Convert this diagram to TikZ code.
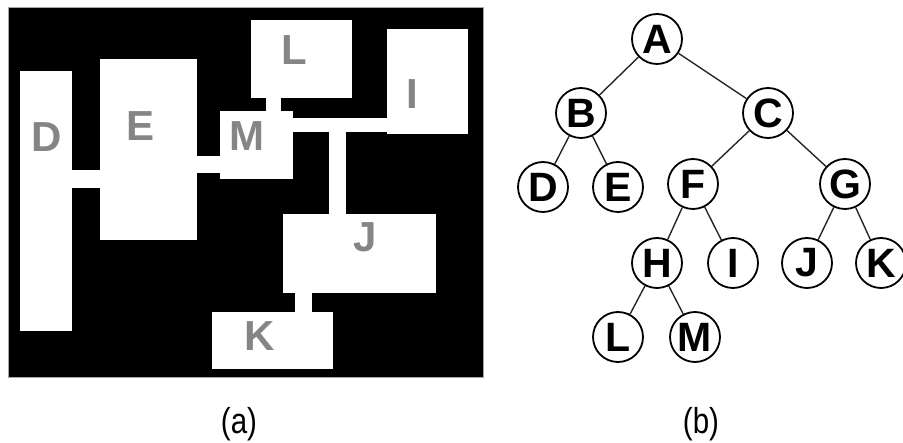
\documentclass[tikz,border=0pt]{standalone}
\usepackage{fontspec}
\setmainfont{Liberation Sans}
\usetikzlibrary{positioning}

\definecolor{labelgray}{HTML}{858585}

\begin{document}
\begin{tikzpicture}[x=1pt, y=-1pt,
      region/.style={fill=white, draw=none},
      regionlabel/.style={text=labelgray, font=\fontsize{42}{42}\selectfont\bfseries, inner sep=0pt},
      treenode/.style={circle, draw=black, line width=1.8pt, fill=white, minimum size=50pt, inner sep=0pt,
        font=\fontsize{41}{41}\selectfont\bfseries},
      treeedge/.style={line width=1.4pt, color=black!85},
      caption/.style={font=\fontsize{36}{36}\selectfont, inner sep=0pt}]
    \useasboundingbox (0,0) rectangle (903,443);
    % (a) region map
    \fill[black, draw=black!35, line width=0.6pt] (8,7) rectangle (483,377);
    \fill[region] (20,71) rectangle (72,331);    % D
    \fill[region] (100,59) rectangle (197,240);  % E
    \fill[region] (72,170) rectangle (100,188);  % D-E
    \fill[region] (220,111) rectangle (293,179); % M
    \fill[region] (197,156) rectangle (220,173); % E-M
    \fill[region] (251,20) rectangle (352,98);   % L
    \fill[region] (266,98) rectangle (281,111);  % L-M
    \fill[region] (387,29) rectangle (468,134);  % I
    \fill[region] (293,118) rectangle (387,132); % M-I
    \fill[region] (329,132) rectangle (346,214); % bar to J
    \fill[region] (283,214) rectangle (436,293); % J
    \fill[region] (295,293) rectangle (312,312); % J-K
    \fill[region] (212,312) rectangle (333,369); % K
    \node[regionlabel] (labD) at (47,137) {D};
    \node[regionlabel] (labE) at (141,126) {E};
    \node[regionlabel] (labM) at (247,136) {M};
    \node[regionlabel] (labL) at (294,50) {L};
    \node[regionlabel] (labI) at (412,94) {I};
    \node[regionlabel] (labJ) at (365,237) {J};
    \node[regionlabel] (labK) at (260,336) {K};
    % (b) tree
    \node[treenode] (A) at (657,39) {A};
    \node[treenode] (B) at (581,113) {B};
    \node[treenode] (C) at (768,113) {C};
    \node[treenode] (D) at (543,187) {D};
    \node[treenode] (E) at (618,187) {E};
    \node[treenode] (F) at (693,184) {F};
    \node[treenode] (G) at (845,184) {G};
    \node[treenode] (H) at (657,263) {H};
    \node[treenode] (I) at (733,263) {I};
    \node[treenode] (J) at (807,263) {J};
    \node[treenode] (K) at (881,263) {K};
    \node[treenode] (L) at (618,337) {L};
    \node[treenode] (M) at (695,337) {M};
    \foreach \from/\to in {A/B, A/C, B/D, B/E, C/F, C/G, F/H, F/I, G/J, G/K, H/L, H/M}
      \draw[treeedge] (\from) -- (\to);
    % captions
    \node[caption] (capa) at (239,424) {\scalebox{0.82}[1]{(a)}};
    \node[caption] (capb) at (701,424) {\scalebox{0.82}[1]{(b)}};
\end{tikzpicture}
\end{document}
